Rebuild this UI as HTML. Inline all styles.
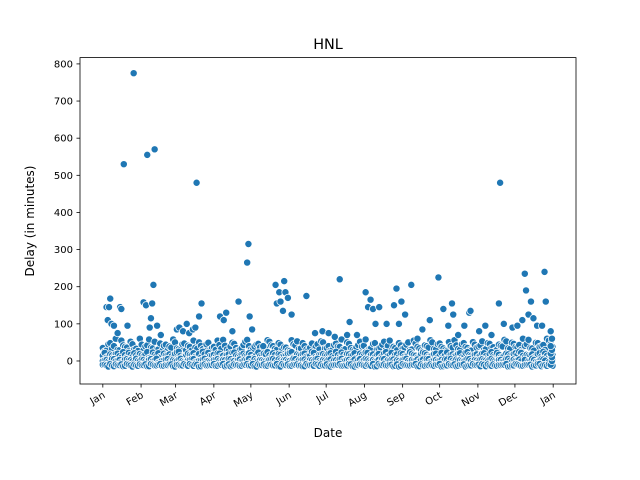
<!DOCTYPE html>
<html><head><meta charset="utf-8">
<style>
html,body{margin:0;padding:0;background:#fff;overflow:hidden;}
svg{display:block;font-family:"DejaVu Sans","Liberation Sans",sans-serif;}
</style></head>
<body>
<svg id="chart" width="640" height="480" viewBox="0 0 640 480">
<rect width="640" height="480" fill="#fff"/>
<text x="328" y="49" font-size="14.4" text-anchor="middle">HNL</text>
<g id="marks"></g>
<rect x="80" y="57.6" width="496" height="326.4" fill="none" stroke="#000" stroke-width="0.8"/>
<g id="xaxis"></g>
<g id="yaxis"></g>
<text x="328" y="437" font-size="12" text-anchor="middle">Date</text>
<text transform="translate(34,221) rotate(-90)" font-size="12" text-anchor="middle">Delay (in minutes)</text>
</svg>
<script>
const monthLabels=["Jan","Feb","Mar","Apr","May","Jun","Jul","Aug","Sep","Oct","Nov","Dec","Jan"];
const monthDays=[0,31,59,90,120,151,181,212,243,273,304,334,365];
const yTicks=[0,100,200,300,400,500,600,700,800];
const bandDays=[0,3,6,9,12,15,18,21,24,27,30,33,36,39,42,45,48,51,54,57,60,63,66,69,72,75,78,81,84,87,90,93,96,99,102,105,108,111,114,117,120,123,126,129,132,135,138,141,144,147,150,153,156,159,162,165,168,171,174,177,180,183,186,189,192,195,198,201,204,207,210,213,216,219,222,225,228,231,234,237,240,243,246,249,252,255,258,261,264,267,270,273,276,279,282,285,288,291,294,297,300,303,306,309,312,315,318,321,324,327,330,333,336,339,342,345,348,351,354,357,360,363];
const bandA=[-10,-12,-8,-14,-11,-9,-13,-10,-15,-12,-9,-11,-14,-8,-12,-10,-13,-11,-9,-14,-10,-12,-8,-13,-11,-9,-15,-10,-12,-11,-8,-13,-10,-14,-9,-12,-11,-13,-10,-8,-12,-14,-9,-11,-13,-10,-12,-8,-15,-11,-9,-13,-10,-12,-14,-8,-11,-13,-10,-9,-12,-14,-11,-10,-8,-13,-12,-9,-15,-11,-10,-13,-12,-8,-14,-11,-9,-12,-10,-13,-15,-8,-11,-12,-10,-14,-9,-13,-11,-12,-10,-8,-14,-12,-11,-9,-13,-10,-15,-12,-8,-11,-14,-10,-9,-13,-12,-11,-10,-8,-14,-12,-9,-13,-11,-10,-15,-12,-8,-11,-13,-10];
const bandB=[0,3,-2,5,1,-3,4,2,-1,6,0,3,-2,5,2,-4,1,4,-1,3,0,6,-2,2,5,-3,1,4,0,-2,3,5,-1,2,6,0,-3,4,1,3,-2,5,0,2,-1,4,6,-3,1,3,0,-2,5,2,4,-1,3,0,6,-2,1,4,-3,2,5,0,3,-1,4,2,-2,6,1,3,0,-3,5,2,4,-1,0,3,6,-2,1,4,2,-3,5,0,3,1,-1,4,6,-2,2,0,3,5,-3,1,4,2,-1,6,0,3,-2,5,1,4,2,-1,3,0,6,-2,1,4];
const bandC=[14,10,18,12,20,9,16,22,11,15,19,13,24,10,17,21,12,15,18,9,23,14,11,20,16,12,19,25,10,14,17,21,13,9,18,22,15,11,20,14,16,10,23,12,18,15,21,9,17,13,20,24,11,16,19,12,14,22,10,18,15,20,13,25,11,17,19,14,21,10,16,23,12,18,15,9,20,14,22,17,11,19,13,24,16,10,18,21,12,15,20,14,11,23,17,13,19,10,22,16,12,18,15,21,9,24,14,17,11,20,13,19,16,22,10,15,18,12,21,25,14,17];
const bandD=[35,28,48,40,30,55,38,26,45,33,60,29,42,36,52,31,27,44,39,58,34,30,47,41,28,36,50,32,45,29,38,55,33,41,27,49,35,30,43,57,31,39,46,28,34,52,40,30,44,37,29,56,42,33,48,31,36,27,45,53,34,40,29,47,38,31,50,35,28,43,39,58,32,46,30,37,52,41,28,35,48,33,44,30,55,38,29,42,36,50,31,47,34,27,40,56,33,45,38,29,51,36,42,30,48,35,28,44,39,53,32,46,37,30,41,57,34,49,38,43,60,45];
const outDays=[3,5,6,4,7,9,12,14,15,17,25,20,33,35,36,40,41,42,39,38,44,47,60,62,65,68,70,73,76,78,80,75,95,98,100,105,110,118,117,119,121,130,140,141,143,144,146,147,148,150,153,165,172,178,183,188,192,198,200,206,213,215,217,219,221,224,230,236,238,240,242,245,250,255,259,265,272,276,280,283,284,288,293,297,298,305,310,315,321,322,325,332,336,340,342,343,345,347,349,352,358,359,356,363,364,364,363,364,363,364,363];
const outDelays=[145,145,168,110,100,95,75,145,140,530,775,95,158,150,555,155,205,570,115,90,95,70,85,90,80,100,75,85,480,120,155,90,120,110,130,80,160,315,265,120,85,40,205,155,185,160,135,215,185,170,125,175,75,80,75,65,220,70,105,70,185,145,165,140,100,145,100,150,195,100,160,125,205,60,85,110,225,140,95,155,125,70,95,130,135,80,95,70,155,480,100,90,95,110,235,190,125,160,115,95,240,160,95,-10,0,10,20,30,40,60,80,5,-5];

const X0=80,X1=576,Y0=57.6,Y1=384;
const dMin=-18.5,dMax=383.5;
const vMin=-62,vMax=817;
function sx(d){return X0+(d-dMin)/(dMax-dMin)*(X1-X0);}
function sy(v){return Y1-(v-vMin)/(vMax-vMin)*(Y1-Y0);}
const NS="http://www.w3.org/2000/svg";
const marks=document.getElementById('marks');
function dot(d,v){
  if(d===undefined||v===undefined) return;
  const c=document.createElementNS(NS,'circle');
  c.setAttribute('cx',sx(d));c.setAttribute('cy',sy(v));c.setAttribute('r',3.6);
  c.setAttribute('fill','#1f77b4');c.setAttribute('stroke','#fff');c.setAttribute('stroke-width',0.75);
  
  
  marks.appendChild(c);
}
const n=bandDays.length;
[bandD,bandC,bandB,bandA].forEach(arr=>{
  bandDays.forEach((d,i)=>{dot(d,arr[i]);dot(d+1.5,arr[(i+7)%n]);});
});
outDays.forEach((d,i)=>dot(d,outDelays[i]));

const xa=document.getElementById('xaxis');
monthDays.forEach((d,i)=>{
  const x=sx(d);
  const t=document.createElementNS(NS,'line');
  t.setAttribute('x1',x);t.setAttribute('x2',x);t.setAttribute('y1',Y1);t.setAttribute('y2',Y1+3.5);
  t.setAttribute('stroke','#000');t.setAttribute('stroke-width',0.8);
  
  
  xa.appendChild(t);
  const l=document.createElementNS(NS,'text');
  l.setAttribute('transform','translate('+(x+3)+','+(Y1+13)+') rotate(-30)');
  l.setAttribute('text-anchor','end');l.setAttribute('font-size','10');
  l.textContent=monthLabels[i];
  
  
  xa.appendChild(l);
});
const ya=document.getElementById('yaxis');
yTicks.forEach(v=>{
  const y=sy(v);
  const t=document.createElementNS(NS,'line');
  t.setAttribute('x1',X0-3.5);t.setAttribute('x2',X0);t.setAttribute('y1',y);t.setAttribute('y2',y);
  t.setAttribute('stroke','#000');t.setAttribute('stroke-width',0.8);
  
  
  ya.appendChild(t);
  const l=document.createElementNS(NS,'text');
  l.setAttribute('x',X0-7);l.setAttribute('y',y+3.5);
  l.setAttribute('text-anchor','end');l.setAttribute('font-size','10');
  l.textContent=v;
  
  
  ya.appendChild(l);
});
</script>
</body></html>
